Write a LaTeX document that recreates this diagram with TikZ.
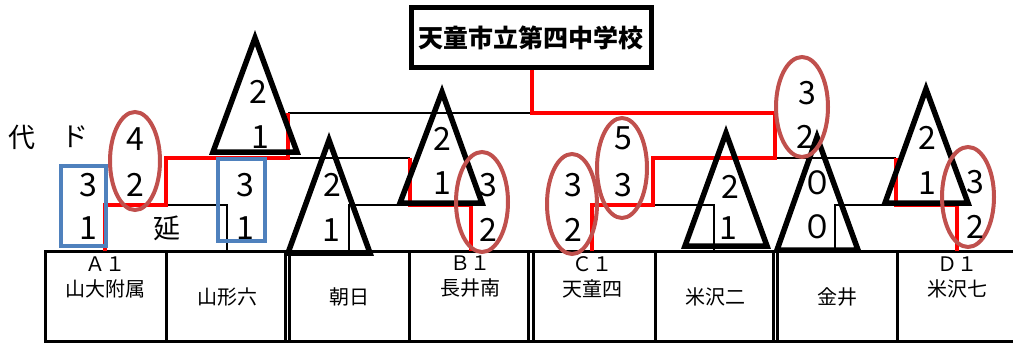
\documentclass[tikz,border=0pt]{standalone}
\usepackage{fontspec}
\setmainfont{Noto Sans CJK JP}
\definecolor{ovalc}{HTML}{C0504D}
\definecolor{boxc}{HTML}{4F81BD}
\begin{document}
\begin{tikzpicture}[x=1pt,y=-1pt,
  lose/.style={draw=black, line width=2.5pt},
  win/.style={draw=red, line width=4.5pt},
  tri/.style={draw=black, line width=5.5pt, line join=miter},
  oval/.style={draw=ovalc, line width=4pt},
  bbox/.style={draw=boxc, line width=4pt},
  tbl/.style={draw=black, line width=3pt},
  num/.style={font=\fontsize{32}{32}\selectfont, inner sep=0pt},
  kanji/.style={font=\fontsize{27}{27}\selectfont, inner sep=0pt},
  team/.style={font=\fontsize{20}{25}\selectfont, align=center, inner sep=0pt},
  titlebox/.style={draw=black, line width=5pt, minimum width=240pt, minimum height=60pt, inner sep=0pt, font=\fontsize{25}{25}\selectfont\bfseries}
]
\useasboundingbox (0,0) rectangle (1013,345);
\fill[white] (0,0) rectangle (1013,345);

% table
\draw[tbl] (1013,251) -- (45,251) -- (45,341) -- (1013,341);
\foreach \xx in {166,285,289,409,528,533,655,773,777,897}
  \draw[tbl] (\xx,251) -- (\xx,341);

% team cells
\node[team] (t1) at (105.5,277) {Ａ１\\山大附属};
\node[team] (t2) at (227,297) {山形六};
\node[team] (t3) at (349,297) {朝日};
\node[team] (t4) at (470,277) {Ｂ１\\長井南};
\node[team] (t5) at (592,277) {Ｃ１\\天童四};
\node[team] (t6) at (715,297) {米沢二};
\node[team] (t7) at (837,297) {金井};
\node[team] (t8) at (957,277) {Ｄ１\\米沢七};

% title
\node[titlebox] (title) at (531,37.5) {天童市立第四中学校};

% bracket coordinates
\coordinate (a1) at (105,251);
\coordinate (a2) at (227,251);
\coordinate (a3) at (349,251);
\coordinate (a4) at (471,251);
\coordinate (a5) at (592,251);
\coordinate (a6) at (714,251);
\coordinate (a7) at (835,251);
\coordinate (a8) at (957,251);
\coordinate (m1) at (166,205);
\coordinate (m2) at (410,205);
\coordinate (m3) at (653,205);
\coordinate (m4) at (896,205);
\coordinate (m2u) at (410,158);
\coordinate (m4u) at (896,158);
\coordinate (s1) at (288,158);
\coordinate (s2) at (775,158);
\coordinate (f1) at (288,113);
\coordinate (f2) at (775,113);
\coordinate (fin) at (532,113);

% losing lines
\draw[lose] (a2) |- (m1);
\draw[lose] (a3) |- (m2);
\draw[lose] (a6) |- (m3);
\draw[lose] (a7) |- (m4);
\draw[lose] (m2u) -- (s1);
\draw[lose] (m4u) -- (s2);
\draw[lose] (f1) -- (fin);

% winning lines
\draw[win] (a1) |- (m1) |- (s1) -- (f1);
\draw[win] (a4) |- (m2) -- (m2u);
\draw[win] (a8) |- (m4) -- (m4u);
\draw[win] (a5) |- (m3) |- (s2) -- (f2) -- (fin) -- (fin |- title.south);

% triangles
\draw[tri] (255,38) -- (213,152) -- (297,152) -- cycle;
\draw[tri] (329,140) -- (288,253) -- (370,253) -- cycle;
\draw[tri] (442,92) -- (400,203) -- (482,203) -- cycle;
\draw[tri] (726,133) -- (685,246) -- (767,246) -- cycle;
\draw[tri] (817,137) -- (777,250) -- (858,250) -- cycle;
\draw[tri] (926,89) -- (885,203) -- (968,203) -- cycle;

% blue boxes
\draw[bbox] (61,166) rectangle (106,246);
\draw[bbox] (218,159) rectangle (265,241);

% ellipses
\draw[oval] (135,161) ellipse [x radius=25pt, y radius=49pt];
\draw[oval] (482,202) ellipse [x radius=26pt, y radius=50pt];
\draw[oval] (572,204) ellipse [x radius=25pt, y radius=50pt];
\draw[oval] (622,168) ellipse [x radius=25pt, y radius=50pt];
\draw[oval] (802,107) ellipse [x radius=26pt, y radius=50pt];
\draw[oval] (968,197) ellipse [x radius=26pt, y radius=50pt];

% labels
\node[kanji] (dai) at (22,137) {代};
\node[kanji] (do) at (75,137) {ド};
\node[kanji] (en) at (167,228) {延};

\node[num] (n1) at (135,139) {4};
\node[num] (n2) at (135,185) {2};
\node[num] (n3) at (88,185) {3};
\node[num] (n4) at (88,228) {1};
\node[num] (n5) at (245,185) {3};
\node[num] (n6) at (245,228) {1};
\node[num] (n7) at (258,92) {2};
\node[num] (n8) at (260,137) {1};
\node[num] (n9) at (332,185) {2};
\node[num] (n10) at (331,230) {1};
\node[num] (n11) at (442,139) {2};
\node[num] (n12) at (442,183) {1};
\node[num] (n13) at (488,185) {3};
\node[num] (n14) at (488,230) {2};
\node[num] (n15) at (573,185) {3};
\node[num] (n16) at (573,230) {2};
\node[num] (n17) at (623,138) {5};
\node[num] (n18) at (623,185) {3};
\node[num] (n19) at (807,93) {3};
\node[num] (n20) at (805,137) {2};
\node[num] (n21) at (730,187) {2};
\node[num] (n22) at (728,228) {1};
\node[num] (n23) at (817,183) {０};
\node[num] (n24) at (817,227) {０};
\node[num] (n25) at (927,138) {2};
\node[num] (n26) at (927,183) {1};
\node[num] (n27) at (975,182) {3};
\node[num] (n28) at (975,227) {2};
\end{tikzpicture}
\end{document}
